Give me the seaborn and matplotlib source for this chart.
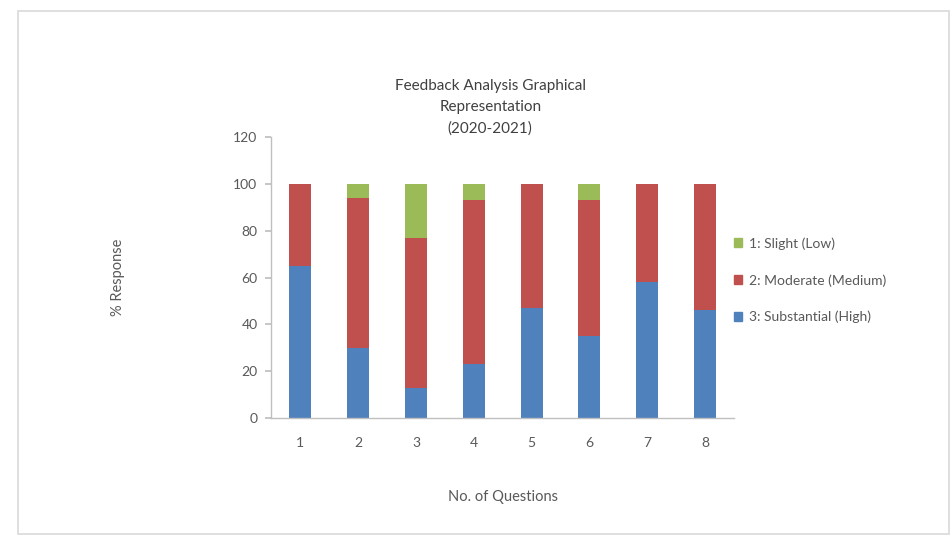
import matplotlib
matplotlib.use("Agg")
import matplotlib.pyplot as plt
import seaborn as sns
import pandas as pd
from matplotlib.patches import Patch, Rectangle

questions = ["1", "2", "3", "4", "5", "6", "7", "8"]
substantial_high = [65, 30, 13, 23, 47, 35, 58, 46]
moderate_medium = [35, 64, 64, 70, 53, 58, 42, 54]
slight_low = [0, 6, 23, 7, 0, 7, 0, 0]
series_labels = ["1: Slight (Low)", "2: Moderate (Medium)", "3: Substantial (High)"]
yticks = [0, 20, 40, 60, 80, 100, 120]

sns.set_theme(style="white")
plt.rcParams['font.family'] = ['Lato', 'DejaVu Sans']

blue, red, green = "#4F81BD", "#C0504D", "#9BBB59"
txt = "#595959"

df = pd.DataFrame({
    "q": questions,
    "high": substantial_high,
    "med": moderate_medium,
    "low": slight_low,
})
df["cum_med"] = df["high"] + df["med"]
df["cum_low"] = df["cum_med"] + df["low"]

fig = plt.figure(figsize=(9.52, 5.37), dpi=100)
fig.patch.set_facecolor("white")
ax = fig.add_axes([0.285, 0.2216, 0.486, 0.523])

w = 0.38
for col, c in [("cum_low", green), ("cum_med", red), ("high", blue)]:
    sns.barplot(data=df, x="q", y=col, color=c, width=w, saturation=1, ax=ax,
                order=questions, linewidth=0, edgecolor=c)

ax.set_ylim(0, 120)
ax.set_yticks(yticks)
ax.set_xlim(-0.5, len(questions) - 0.5)
for s in ["top", "right"]:
    ax.spines[s].set_visible(False)
for s in ["left", "bottom"]:
    ax.spines[s].set_color("#BFBFBF")
    ax.spines[s].set_linewidth(1)
ax.tick_params(axis="y", left=True, length=4, color="#BFBFBF", labelcolor=txt, labelsize=10, pad=6)
ax.tick_params(axis="x", bottom=False, labelcolor=txt, labelsize=10, pad=8)
ax.set_xlabel("No. of Questions", color=txt, fontsize=10.5, labelpad=29)
ax.set_ylabel("% Response", color=txt, fontsize=10.5, labelpad=78)

fig.text(0.515, 0.80, "Feedback Analysis Graphical\nRepresentation\n(2020-2021)",
         ha="center", va="center", fontsize=11, color="#404040", linespacing=1.65)

handles = [Patch(color=green), Patch(color=red), Patch(color=blue)]
leg = fig.legend(handles, series_labels, loc="center left", bbox_to_anchor=(0.758, 0.478),
                 frameon=False, fontsize=10, handlelength=0.6, handleheight=0.6,
                 labelspacing=1.75, handletextpad=0.5, labelcolor=txt)

fig.patches.append(Rectangle((0.019, 0.005), 0.978, 0.975, transform=fig.transFigure,
                             fill=False, edgecolor="#D9D9D9", linewidth=1.2))

fig.savefig("out.png", dpi=100, facecolor="white")
